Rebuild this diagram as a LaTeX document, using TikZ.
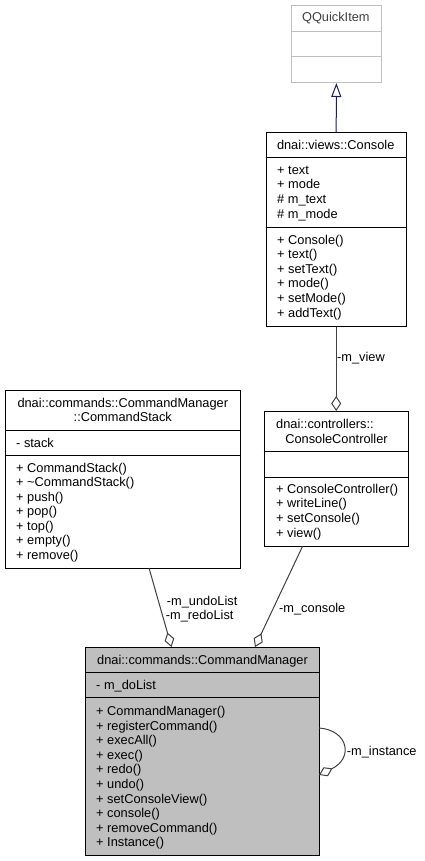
\documentclass[tikz,border=0pt]{standalone}
\usepackage{fontspec}
\setmainfont{Liberation Sans}
\usetikzlibrary{arrows.meta}
\definecolor{edgegray}{HTML}{404040}
\definecolor{qgray}{HTML}{BFBFBF}
\definecolor{qtext}{HTML}{404040}
\definecolor{cmfill}{HTML}{BFBFBF}
\definecolor{inhblue}{HTML}{191970}
\newcommand\dfont{\fontsize{12.8}{14.5}\selectfont}
\begin{document}
\begin{tikzpicture}[x=1pt,y=-1pt,
  umlbox/.style={draw=black, line width=1pt, rectangle, inner sep=0pt, anchor=north west},
  txt/.style={inner sep=0pt, font=\dfont, anchor=base west},
  ttl/.style={inner sep=0pt, font=\dfont, anchor=base},
  sepline/.style={draw=black, line width=1pt},
  aggr/.style={draw=edgegray, line width=1pt, -{Diamond[open, length=15pt, width=10pt, fill=white, line width=1pt]}},
  inher/.style={draw=inhblue, line width=1pt, -{Triangle[open, length=14pt, width=10pt, fill=white, line width=1pt]}},
  elabel/.style={inner sep=0pt, font=\dfont, anchor=base west}]
\useasboundingbox (0,0) rectangle (425,861);
\fill[white] (0,0) rectangle (425,861);

% QQuickItem
\node[umlbox, draw=qgray, minimum width=90.3pt, minimum height=77pt] (qq) at (290.7,5) {};
\draw[draw=qgray, line width=1pt] (qq.west |- 0,32) -- (qq.east |- 0,32);
\draw[draw=qgray, line width=1pt] (qq.west |- 0,57) -- (qq.east |- 0,57);
\node[ttl, text=qtext] (qq-t) at (335.85,22) {QQuickItem};

% dnai::views::Console
\node[umlbox, minimum width=140pt, minimum height=193.7pt] (con) at (265.7,132) {};
\draw[sepline] (con.west |- 0,158) -- (con.east |- 0,158);
\draw[sepline] (con.west |- 0,227.7) -- (con.east |- 0,227.7);
\node[ttl] (con-t) at (335.7,150) {dnai::views::Console};
\foreach \t [count=\i from 0] in {+ text, + mode, \# m\_text, \# m\_mode}
  \node[txt] (con-a\i) at (277, 174.5+14.5*\i) {\t};
\foreach \t [count=\i from 0] in {+ Console(), + text(), + setText(), + mode(), + setMode(), + addText()}
  \node[txt] (con-m\i) at (277, 244+14.6*\i) {\t};

% dnai::controllers::ConsoleController
\node[umlbox, minimum width=144pt, minimum height=135pt] (cc) at (263.7,411) {};
\draw[sepline] (cc.west |- 0,451) -- (cc.east |- 0,451);
\draw[sepline] (cc.west |- 0,477.7) -- (cc.east |- 0,477.7);
\node[txt] (cc-t1) at (276,428) {dnai::controllers::};
\node[ttl] (cc-t2) at (336.5,443) {ConsoleController};
\foreach \t [count=\i from 0] in {+ ConsoleController(), + writeLine(), + setConsole(), + view()}
  \node[txt] (cc-m\i) at (276, 493+14.7*\i) {\t};

% dnai::commands::CommandManager::CommandStack
\node[umlbox, minimum width=235pt, minimum height=178pt] (cs) at (5,390) {};
\draw[sepline] (cs.west |- 0,430) -- (cs.east |- 0,430);
\draw[sepline] (cs.west |- 0,455) -- (cs.east |- 0,455);
\node[ttl] (cs-t1) at (122.8,407) {dnai::commands::CommandManager};
\node[ttl] (cs-t2) at (122.8,421) {::CommandStack};
\node[txt] (cs-a0) at (16,447) {- stack};
\foreach \t [count=\i from 0] in {+ CommandStack(), + \textasciitilde CommandStack(), + push(), + pop(), + top(), + empty(), + remove()}
  \node[txt] (cs-m\i) at (16, 472+14.5*\i) {\t};

% dnai::commands::CommandManager
\node[umlbox, fill=cmfill, minimum width=234pt, minimum height=208pt] (cm) at (85,647) {};
\draw[sepline] (cm.west |- 0,672.7) -- (cm.east |- 0,672.7);
\draw[sepline] (cm.west |- 0,697.7) -- (cm.east |- 0,697.7);
\node[ttl] (cm-t) at (202.5,664) {dnai::commands::CommandManager};
\node[txt] (cm-a0) at (96,689) {- m\_doList};
\foreach \t [count=\i from 0] in {+ CommandManager(), + registerCommand(), + execAll(), + exec(), + redo(), + undo(), + setConsoleView(), + console(), + removeCommand(), + Instance()}
  \node[txt] (cm-m\i) at (96, 715.7+14.55*\i) {\t};

% connector end points
\coordinate (cs-out) at (149,568);
\coordinate (cm-in1) at (171.5,647);
\coordinate (cc-out) at (302.7,546);
\coordinate (cm-in2) at (255,647);
\coordinate (cm-self1) at (319,728);
\coordinate (cm-self2) at (319,775);

% connectors
\draw[inher] (con.north) -- (qq.south);
\draw[aggr] (con.south) -- (cc.north);
\draw[aggr] (cs-out) -- (cm-in1);
\draw[aggr] (cc-out) -- (cm-in2);
\draw[aggr] (cm-self1) .. controls (348,730) and (354,758) .. (cm-self2);

% connector labels
\node[elabel] (l-view) at (337,361) {-m\_view};
\node[elabel] (l-undo) at (166.7,605) {-m\_undoList};
\node[elabel] (l-redo) at (165.7,619) {-m\_redoList};
\node[elabel] (l-cons) at (279,612) {-m\_console};
\node[elabel] (l-inst) at (346.7,755) {-m\_instance};
\end{tikzpicture}
\end{document}
